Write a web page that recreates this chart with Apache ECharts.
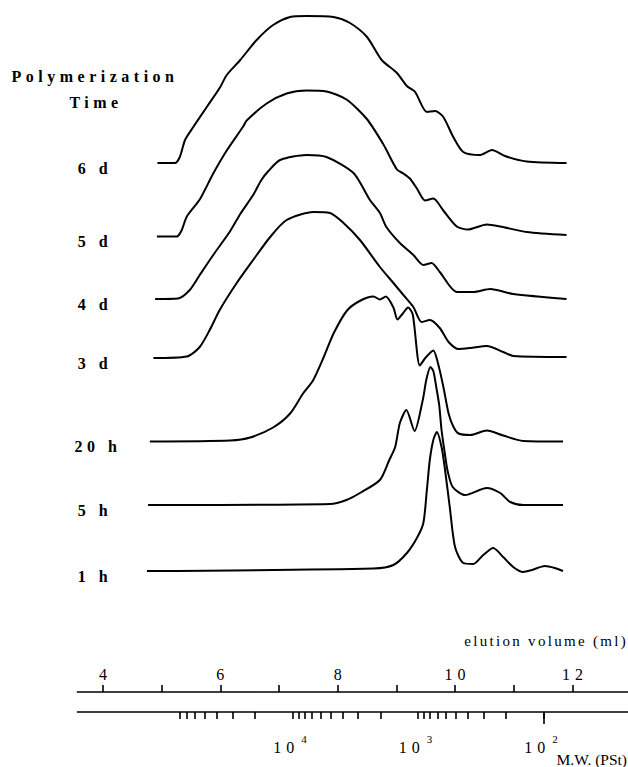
<!DOCTYPE html>
<html><head><meta charset="utf-8">
<script src="https://cdn.jsdelivr.net/npm/echarts@6/dist/echarts.min.js"></script>
<style>
html,body{margin:0;padding:0;background:#fff;}
#chart{width:628px;height:767px;}
#chart text[style*="16px"]{letter-spacing:5px;}
#chart text[style*="15px"]{letter-spacing:2.3px;}
#chart text[style*="bold"]{letter-spacing:4.5px;}
</style></head><body><div id="chart"></div>
<script>
// ---- data (elution volume in ml, detector signal in arbitrary units) ----
const traceLabels = ['6 d', '5 d', '4 d', '3 d', '20 h', '5 h', '1 h'];
const traceOffsets = [529, 455.5, 393, 334, 250.5, 187, 121];

const trace6d = [[4.93,0],[5.23,0],[5.31,6],[5.40,23],[5.54,36],[5.77,56],[6.00,76],[6.11,88],[6.34,103],[6.62,123],[6.90,138],[7.19,146],[7.47,147],[7.93,146],[8.21,140],[8.50,126],[8.75,103],[9.01,90],[9.18,77],[9.32,71],[9.52,51],[9.66,52],[9.80,46],[9.97,26],[10.14,11],[10.43,8],[10.63,13],[10.85,7],[11.22,1.5],[11.90,0]];
const trace5d = [[4.92,0],[5.26,0],[5.34,6],[5.43,20],[5.65,37],[5.88,63],[6.11,86],[6.39,110],[6.45,116],[6.79,133],[7.13,143],[7.47,146],[7.81,145],[8.15,137],[8.49,118],[8.78,92],[9.01,67],[9.12,63],[9.23,58],[9.35,48],[9.49,36],[9.63,38],[9.80,26],[10.03,10],[10.22,7],[10.54,12],[10.77,10],[11.22,4.5],[11.90,1.5]];
const trace4d = [[4.89,0],[5.28,0.5],[5.48,9],[5.65,24],[5.88,44],[6.17,68],[6.34,85],[6.56,104],[6.70,119],[6.82,128],[7.02,139],[7.47,144],[7.81,142],[8.27,126],[8.55,99],[8.72,86],[8.83,72],[9.06,56],[9.29,44],[9.46,34],[9.60,36],[9.74,27],[10.03,7],[10.31,7],[10.60,10],[10.99,5],[11.90,0]];
const trace3d = [[4.86,0],[5.43,1.5],[5.65,11],[5.82,28],[5.99,48],[6.28,75],[6.56,98],[6.85,121],[7.13,138],[7.59,146],[7.87,145],[8.10,135],[8.38,118],[8.72,91],[8.95,75],[9.12,63],[9.29,51],[9.43,36],[9.57,38],[9.74,30],[9.89,16],[10.06,9],[10.26,10],[10.54,12],[10.82,6],[10.99,2],[11.90,1]];
const trace20h = [[4.80,0],[6.17,1],[6.51,4],[6.90,14],[7.19,28],[7.41,48],[7.58,61],[7.76,84],[7.93,108],[8.16,131],[8.39,141],[8.61,145],[8.72,142],[8.82,145],[8.95,134],[9.02,122],[9.11,128],[9.20,134],[9.28,127],[9.40,76],[9.50,84],[9.63,91],[9.71,78],[9.80,55],[9.89,28],[9.97,15],[10.06,8],[10.26,6.5],[10.54,11],[10.82,6],[11.16,0.5],[11.84,0]];
const trace5h = [[4.77,0],[7.87,1],[8.15,5],[8.38,12],[8.72,25],[8.88,45],[8.98,58],[9.06,82],[9.17,95],[9.31,74],[9.45,105],[9.51,125],[9.58,138],[9.63,134],[9.68,118],[9.73,100],[9.77,75],[9.83,50],[9.87,35],[9.96,18],[10.17,10],[10.54,17],[10.77,12],[10.94,3],[11.16,0],[11.84,0]];
const trace1h = [[4.75,0],[8.61,2.5],[8.95,6],[9.18,18],[9.35,33],[9.46,48],[9.52,81],[9.57,111],[9.63,131],[9.69,139],[9.77,124],[9.83,101],[9.91,64],[10.00,24],[10.14,8],[10.31,7],[10.48,16],[10.65,23],[10.82,14],[10.99,4],[11.16,-1],[11.31,1],[11.53,5],[11.70,3],[11.84,0]];
const traces = [trace6d, trace5d, trace4d, trace3d, trace20h, trace5h, trace1h];

const elutionTicks = [4, 5, 6, 7, 8, 9, 10, 11, 12];
const elutionLabels = [4, 6, 8, 10, 12];
const mwTicks = [80000,70000,60000,50000,40000,30000,20000,10000,9000,8000,7000,6000,5000,4000,3000,2000,1000,900,800,700,600,500,400,300,200,100];
const mwLabels = [10000, 1000, 100];
const mwLongTicks = [100];

// ---- layout ----
const W = 628, H = 767;
const axisY = 692;            // pixel row of the elution volume axis
const gridLeft = 77.4;
const ySpan = axisY;          // y-axis value range mapped 1:1 to pixels

const chart = echarts.init(document.getElementById('chart'), null, {renderer: 'svg', width: W, height: H});

const serif = 'Liberation Serif';
const black = '#000';

const series = traces.map((t, i) => ({
  type: 'line',
  name: traceLabels[i],
  xAxisIndex: 0,
  yAxisIndex: 0,
  data: t.map(p => [p[0], p[1] + traceOffsets[i]]),
  showSymbol: false,
  symbol: 'none',
  smooth: 0.25,
  lineStyle: {color: black, width: 2},
  silent: true,
  animation: false
}));

const labelFont = 'bold 16px "' + serif + '"';
const graphic = [
  {type: 'text', x: 95, y: 76, style: {text: 'Polymerization', font: labelFont, fill: black, align: 'center', verticalAlign: 'middle'}},
  {type: 'text', x: 96, y: 102, style: {text: 'Time', font: labelFont, fill: black, align: 'center', verticalAlign: 'middle'}},
  {type: 'text', x: W, y: 641, style: {text: 'elution volume (ml)', font: '15px "' + serif + '"', fill: black, align: 'right', verticalAlign: 'middle'}},
  {type: 'text', x: 627, y: 759, style: {text: 'M.W. (PSt)', font: '15.5px "' + serif + '"', fill: black, align: 'right', verticalAlign: 'middle'}}
];
traceLabels.forEach((lab, i) => {
  graphic.push({type: 'text', x: lab.length > 3 ? 98 : 95, y: axisY - traceOffsets[i] + 5,
    style: {text: lab, font: labelFont, fill: black, align: 'center', verticalAlign: 'middle'}});
});

const mwBase = {
  type: 'log', logBase: 10, position: 'bottom', offset: 20, inverse: true,
  min: 21.2, max: 518800,
  splitLine: {show: false}, minorTick: {show: false}, minorSplitLine: {show: false}
};

chart.setOption({
  animation: false,
  backgroundColor: '#fff',
  grid: {left: gridLeft, right: 0, top: 0, bottom: H - axisY, containLabel: false, outerBoundsMode: 'none'},
  xAxis: [
    {
      type: 'value', position: 'bottom', min: 3.5655, max: 12.947,
      axisLine: {show: true, lineStyle: {color: black, width: 1.6}},
      axisTick: {show: true, inside: true, length: 7, customValues: elutionTicks, lineStyle: {color: black, width: 1.6}},
      axisLabel: {show: true, inside: true, margin: 10, padding: [0, 0, 0, 5], customValues: elutionLabels, color: black, fontFamily: serif, fontSize: 16},
      splitLine: {show: false}
    },
    Object.assign({}, mwBase, {
      axisLine: {show: true, lineStyle: {color: black, width: 1.6}},
      axisTick: {show: true, inside: false, length: 7, customValues: mwTicks, lineStyle: {color: black, width: 1.6}},
      axisLabel: {
        show: true, margin: 21, customValues: mwLabels,
        formatter: v => '{b|10}{s|' + Math.round(Math.log10(v)) + '}',
        rich: {
          b: {fontSize: 16, fontFamily: serif, color: black, lineHeight: 28},
          s: {fontSize: 11, fontFamily: serif, color: black, verticalAlign: 'top', padding: [0, 0, 0, 7], lineHeight: 12}
        }
      }
    }),
    Object.assign({}, mwBase, {
      axisLine: {show: false},
      axisTick: {show: true, inside: false, length: 12, customValues: mwLongTicks, lineStyle: {color: black, width: 1.6}},
      axisLabel: {show: false}
    })
  ],
  yAxis: {type: 'value', min: 0, max: ySpan, show: false},
  series: series,
  graphic: graphic
});
</script></body></html>
